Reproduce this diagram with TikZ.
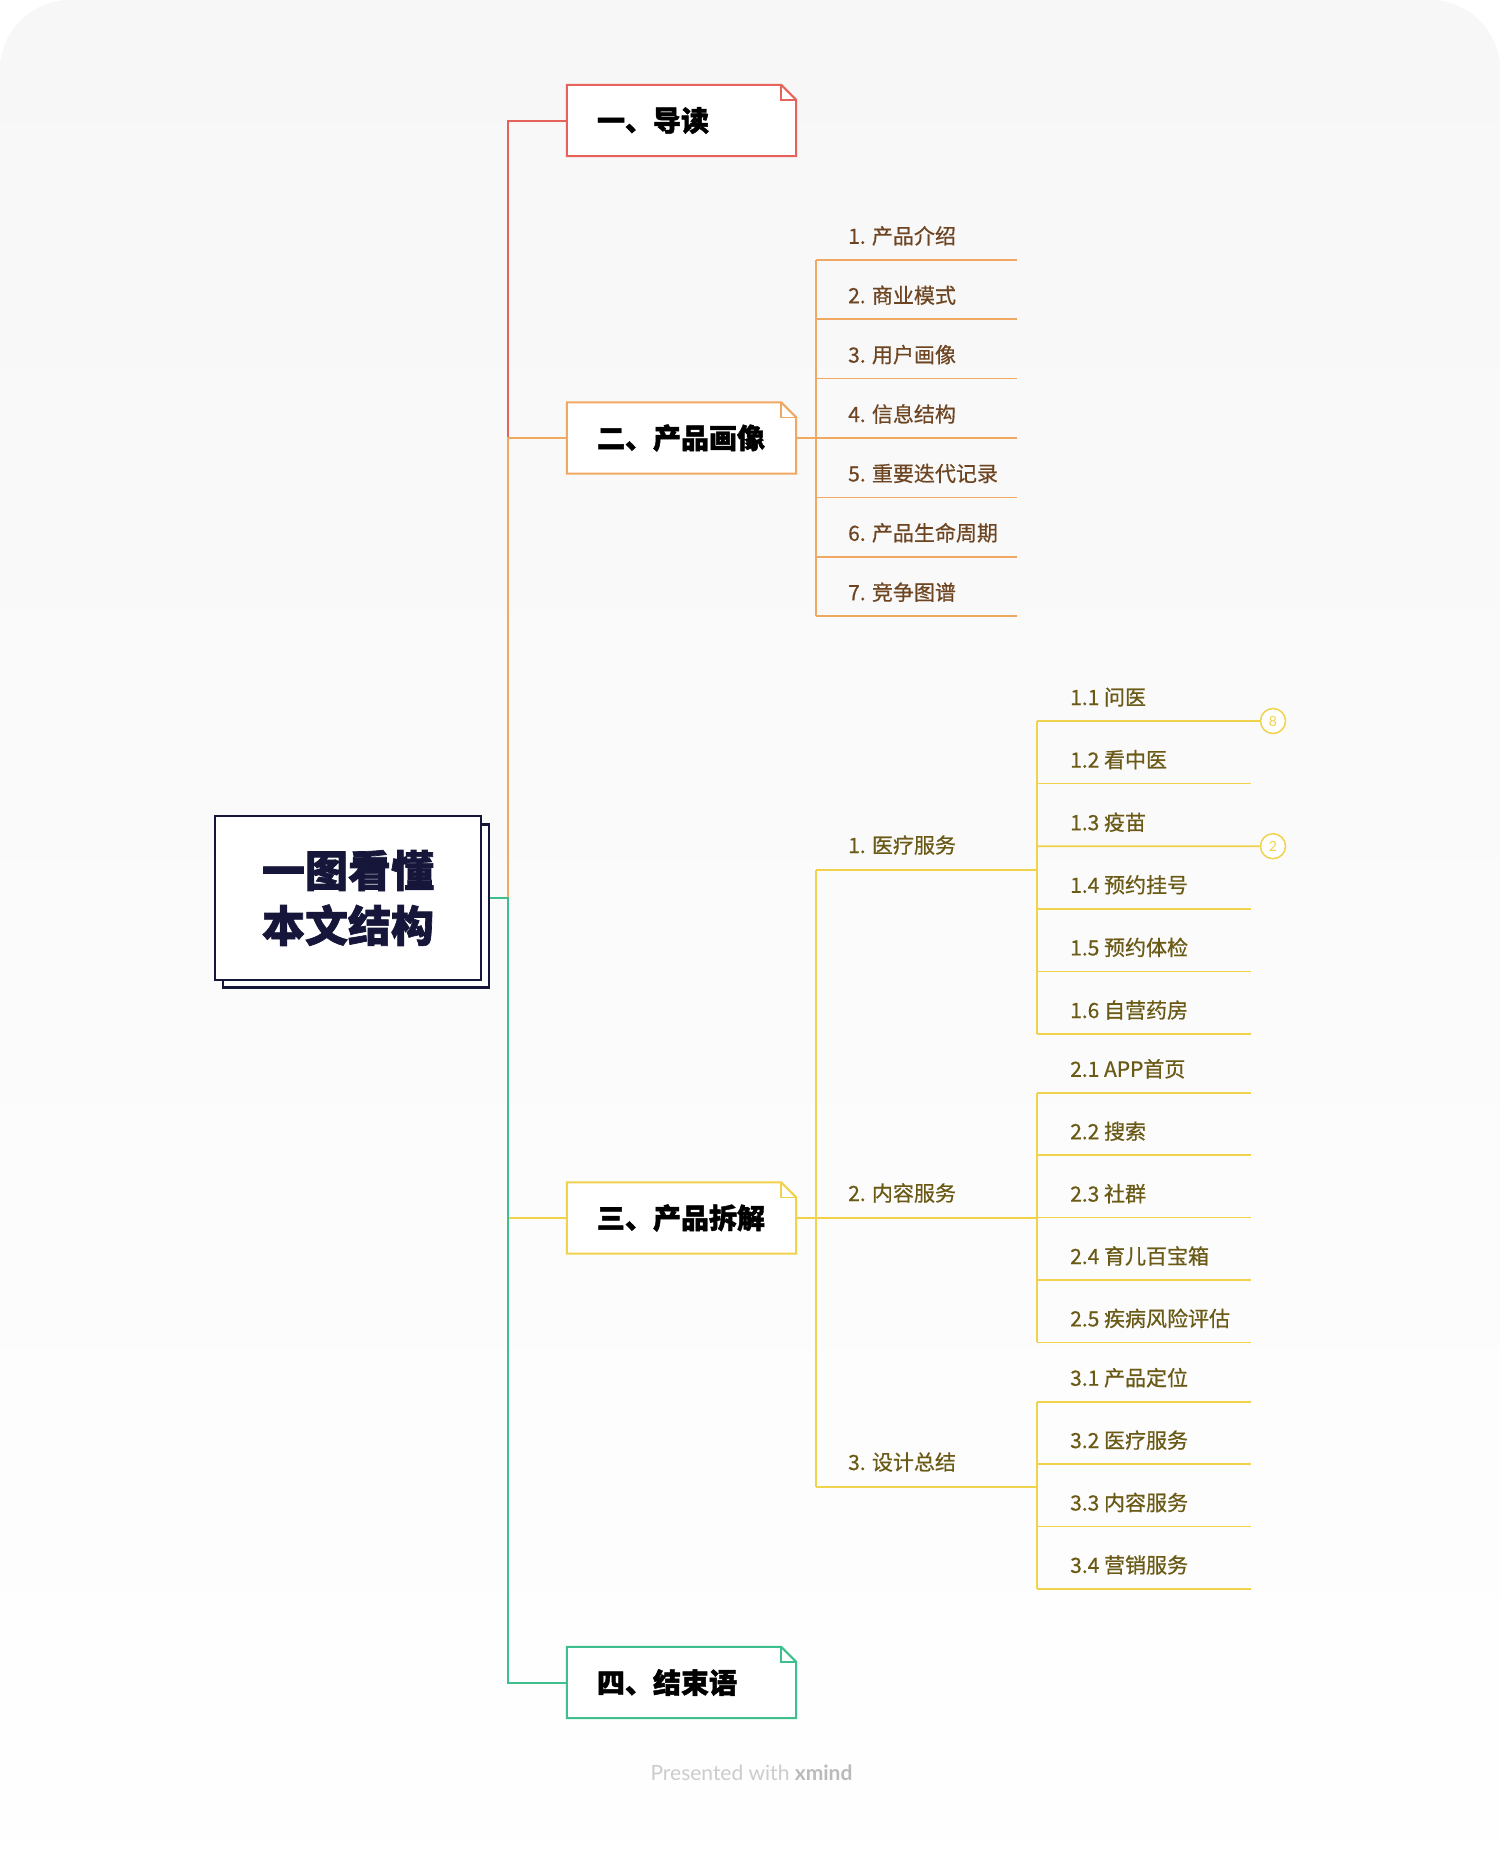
\documentclass[tikz,border=0pt]{standalone}
\usepackage{fontspec}
\newfontfamily\cjk{Noto Sans CJK SC}
\newfontfamily\cjkmed[FakeBold=0.6]{Noto Sans CJK SC}
\newfontfamily\cjkheavy[BoldFeatures={FakeBold=1.6}]{Noto Sans CJK SC}
\newfontfamily\footfont{Lato}
\usetikzlibrary{calc}
\pgfdeclarelayer{bg}
\pgfdeclarelayer{lines}
\pgfsetlayers{bg,lines,main}
\definecolor{cred}{HTML}{E8625C}
\definecolor{corange}{HTML}{F0A862}
\definecolor{cyellow}{HTML}{F0D24C}
\definecolor{cgreen}{HTML}{3EC08E}
\definecolor{cnavy}{HTML}{16163A}
\definecolor{tbrown}{HTML}{6E4522}
\definecolor{tolive}{HTML}{6A5A16}
\definecolor{bgtop}{HTML}{F7F7F7}
\newcommand\foldbox[2]{%
  \draw[line width=2pt,#2,fill=white] (#1.north west) -- ([xshift=-15pt]#1.north east) -- ([yshift=-15pt]#1.north east) -- (#1.south east) -- (#1.south west) -- cycle;
  \draw[line width=1.6pt,#2] ([xshift=-15pt]#1.north east) -- ([xshift=-15pt,yshift=-15pt]#1.north east) -- ([yshift=-15pt]#1.north east);}
\begin{document}
\begin{tikzpicture}[x=1pt,y=-1pt,
  brline/.style={line width=2pt},
  subline/.style={line width=1.6pt},
  bbox/.style={draw=none, minimum width=229pt, minimum height=71pt, inner sep=0pt},
  btitle/.style={anchor=west, inner sep=0pt, font=\cjkheavy\bfseries\fontsize{28}{32}\selectfont, text=black},
  lone/.style={anchor=base west, inner sep=0pt, font=\cjkmed\fontsize{21}{25}\selectfont},
  badge/.style={circle, draw=cyellow, line width=1.5pt, fill=white, minimum size=25pt, inner sep=0pt, text=cyellow, font=\footfont\fontsize{14}{14}\selectfont}
]
\useasboundingbox (0,0) rectangle (1500,1856);
\begin{pgfonlayer}{bg}
\fill[white] (0,0) rectangle (1500,1856);
\shade[top color=bgtop, bottom color=white, rounded corners=70pt] (0,0) rectangle (1500,1960);
\end{pgfonlayer}

% root
\node[draw=cnavy, line width=2.4pt, fill=white, minimum width=266pt, minimum height=163pt] (rootsh) at (356,906) {};
\node[draw=cnavy, line width=2.4pt, fill=white, minimum width=266pt, minimum height=164pt,
      align=center, text=cnavy, font=\cjkheavy\bfseries\fontsize{43}{55}\selectfont] (root) at (348,898) {一图看懂\\本文结构};
\coordinate (hub) at (508,898);

% branches
\node[bbox] (b1) at (681.5,120.5) {};
\node[bbox] (b2) at (681.5,438) {};
\node[bbox] (b3) at (681.5,1218) {};
\node[bbox] (b4) at (681.5,1682.5) {};
\foldbox{b1}{cred}
\foldbox{b2}{corange}
\foldbox{b3}{cyellow}
\foldbox{b4}{cgreen}
\node[btitle] (t1) at ([xshift=30pt]b1.west) {一、导读};
\node[btitle] (t2) at ([xshift=30pt]b2.west) {二、产品画像};
\node[btitle] (t3) at ([xshift=30pt]b3.west) {三、产品拆解};
\node[btitle] (t4) at ([xshift=30pt]b4.west) {四、结束语};

\begin{pgfonlayer}{lines}
\draw[brline,cred] (root.east) -- (hub) |- (b1.west);
\draw[brline,cyellow] (root.east) -- (hub) |- (b3.west);
\draw[brline,corange] (root.east) -- (hub) |- (b2.west);
\draw[brline,cgreen] (root.east) -- (hub) |- (b4.west);
\end{pgfonlayer}

% orange children
\coordinate (ov) at (816,438);
\draw[subline,corange] (b2.east) -- (ov);
\foreach \t [count=\k] in {1. 产品介绍, 2. 商业模式, 3. 用户画像, 4. 信息结构, 5. 重要迭代记录, 6. 产品生命周期, 7. 竞争图谱}{
  \pgfmathsetmacro\yy{438+(\k-4)*59.4}
  \node[lone, text=tbrown] (o\k) at (848,{\yy-16}) {\t};
  \coordinate (os\k) at (816,\yy);
  \coordinate (oe\k) at (1017,\yy);
  \draw[subline,corange] (os\k) -- (oe\k);
}
\draw[subline,corange] (os1) -- (os7);

% yellow level 1
\coordinate (ys1) at (816,870);
\coordinate (ys2) at (816,1218);
\coordinate (ys3) at (816,1487);
\coordinate (ye1) at (1037,870);
\coordinate (ye2) at (1037,1218);
\coordinate (ye3) at (1037,1487);
\draw[subline,cyellow] (b3.east) -- (ys2);
\draw[subline,cyellow] (ys1) -- (ys3);
\foreach \k/\t in {1/1. 医疗服务, 2/2. 内容服务, 3/3. 设计总结}{
  \node[lone, text=tolive] (y\k) at ($(ys\k)+(32,-17)$) {\t};
  \draw[subline,cyellow] (ys\k) -- (ye\k);
}

% yellow level 2, group 1
\foreach \t [count=\k] in {1.1 问医, 1.2 看中医, 1.3 疫苗, 1.4 预约挂号, 1.5 预约体检, 1.6 自营药房}{
  \pgfmathsetmacro\yy{721+(\k-1)*62.6}
  \node[lone, text=tolive] (a\k) at (1070,{\yy-16}) {\t};
  \coordinate (as\k) at (1037,\yy);
  \coordinate (ae\k) at (1251,\yy);
}
\node[badge] (c1) at (1273,721) {8};
\node[badge] (c2) at (1273,846.2) {2};
\draw[subline,cyellow] (as1) -- (c1.west);
\draw[subline,cyellow] (as2) -- (ae2);
\draw[subline,cyellow] (as3) -- (c2.west);
\draw[subline,cyellow] (as4) -- (ae4);
\draw[subline,cyellow] (as5) -- (ae5);
\draw[subline,cyellow] (as6) -- (ae6);
\draw[subline,cyellow] (as1) -- (as6);

% group 2
\foreach \t [count=\k] in {2.1 APP首页, 2.2 搜索, 2.3 社群, 2.4 育儿百宝箱, 2.5 疾病风险评估}{
  \pgfmathsetmacro\yy{1092.8+(\k-1)*62.4}
  \node[lone, text=tolive] (m\k) at (1070,{\yy-16}) {\t};
  \coordinate (ms\k) at (1037,\yy);
  \coordinate (me\k) at (1251,\yy);
  \draw[subline,cyellow] (ms\k) -- (me\k);
}
\draw[subline,cyellow] (ms1) -- (ms5);

% group 3
\foreach \t [count=\k] in {3.1 产品定位, 3.2 医疗服务, 3.3 内容服务, 3.4 营销服务}{
  \pgfmathsetmacro\yy{1401.7+(\k-1)*62.4}
  \node[lone, text=tolive] (d\k) at (1070,{\yy-16}) {\t};
  \coordinate (ds\k) at (1037,\yy);
  \coordinate (de\k) at (1251,\yy);
  \draw[subline,cyellow] (ds\k) -- (de\k);
}
\draw[subline,cyellow] (ds1) -- (ds4);

% footer
\node[font=\footfont\fontsize{21}{25}\selectfont, text=black!20] (foot) at (751.5,1773) {Presented with \textbf{\color{black!27}xmind}};
\end{tikzpicture}
\end{document}
